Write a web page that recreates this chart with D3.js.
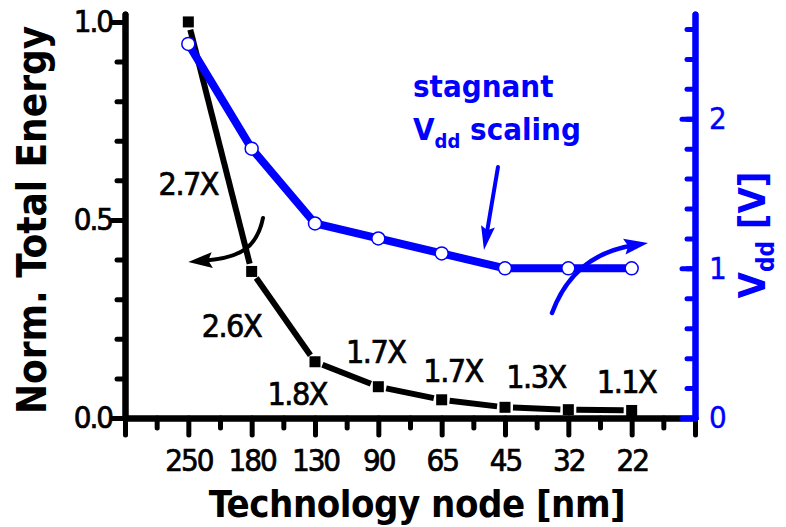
<!DOCTYPE html>
<html>
<head>
<meta charset="utf-8">
<script src="https://cdn.jsdelivr.net/npm/d3@7"></script>
<style>
  html, body { margin: 0; padding: 0; background: #fff; }
  svg { display: block; }
  .cond { font-family: 'DejaVu Sans Condensed', 'DejaVu Sans', sans-serif; font-stretch: condensed; }
</style>
</head>
<body>
<svg id="chart" width="786" height="527"></svg>
<script>
// Technology nodes (nm) and the two series plotted against them
const nodes = ["250", "180", "130", "90", "65", "45", "32", "22"];
const energy = [1.0, 0.37, 0.142, 0.079, 0.046, 0.027, 0.021, 0.019];
const vdd = [2.5, 1.8, 1.3, 1.2, 1.1, 1.0, 1.0, 1.0];
// energy reduction between consecutive nodes
const ratioLabels = ["2.7X", "2.6X", "1.8X", "1.7X", "1.7X", "1.3X", "1.1X"];
const energyTicks = [0, 0.5, 1.0];
const vddTicks = [0, 1, 2];

// where the ratio labels sit, in (node index, energy) units: centre x, baseline y
const ratioAnchors = [[0.0, 0.563], [0.68, 0.205], [1.72, 0.033], [2.96, 0.139],
                      [4.18, 0.091], [5.49, 0.076], [6.92, 0.063]];

const BLUE = "#0000ff";
const svg = d3.select("#chart");

const x = d3.scaleLinear().domain([-1, 8]).range([125, 695]);
const yE = d3.scaleLinear().domain([0, 1.02]).range([418, 14]);
const yV = d3.scaleLinear().domain([0, 2.7]).range([418, 14]);

function styleAxis(g, color) {
  g.select(".domain").attr("stroke", color).attr("stroke-width", 6)
    .attr("stroke-linecap", "round");
  g.selectAll(".tick line").attr("stroke", color).attr("stroke-width", 5)
    .attr("stroke-linecap", "round");
  g.selectAll("text").attr("class", "cond").attr("fill", color)
    .attr("stroke", color).attr("stroke-width", 0.7)
    .attr("font-size", 31).attr("letter-spacing", -2);
}

// ---- bottom axis (node index) ----
const xMinor = svg.append("g").attr("transform", `translate(0,${yE(0)})`)
  .call(d3.axisBottom(x).tickValues(d3.range(-0.5, 8, 1)).tickSize(10).tickSizeOuter(0).tickFormat(""));
styleAxis(xMinor, "#000");
const xMajor = svg.append("g").attr("transform", `translate(0,${yE(0)})`)
  .call(d3.axisBottom(x).tickValues(d3.range(-1, 9, 1)).tickSize(17).tickSizeOuter(0)
    .tickPadding(14).tickFormat(i => nodes[i] !== undefined ? nodes[i] : ""));
styleAxis(xMajor, "#000");

// ---- left axis (normalized energy) ----
const yMinor = svg.append("g").attr("transform", `translate(${x(-1)},0)`)
  .call(d3.axisLeft(yE).tickValues(d3.range(0, 10).map(d => d / 10)).tickSize(8).tickSizeOuter(0).tickFormat(""));
styleAxis(yMinor, "#000");
const yMajor = svg.append("g").attr("transform", `translate(${x(-1)},0)`)
  .call(d3.axisLeft(yE).tickValues(energyTicks).tickSize(13).tickSizeOuter(0)
    .tickPadding(0).tickFormat(d3.format(".1f")));
styleAxis(yMajor, "#000");

// ---- energy series: segments with a small gap at each marker ----
const gap = 8;
const ePts = energy.map((v, i) => [x(i), yE(v)]);
const segs = d3.pairs(ePts).map(([a, b]) => {
  const dx = b[0] - a[0], dy = b[1] - a[1], L = Math.hypot(dx, dy);
  const ux = dx / L, uy = dy / L;
  return [a[0] + ux * gap, a[1] + uy * gap, b[0] - ux * gap, b[1] - uy * gap];
});
svg.append("g").selectAll("line").data(segs).join("line")
  .attr("x1", d => d[0]).attr("y1", d => d[1]).attr("x2", d => d[2]).attr("y2", d => d[3])
  .attr("stroke", "#000").attr("stroke-width", 6).attr("stroke-linecap", "butt");
const sq = 11;
svg.append("g").selectAll("rect").data(energy).join("rect")
  .attr("x", (d, i) => x(i) - sq / 2).attr("y", d => yE(d) - sq / 2)
  .attr("width", sq).attr("height", sq).attr("fill", "#000");

// ---- Vdd series ----
svg.append("path").datum(vdd)
  .attr("d", d3.line().x((d, i) => x(i)).y(d => yV(d)))
  .attr("fill", "none").attr("stroke", BLUE).attr("stroke-width", 8)
  .attr("stroke-linejoin", "round");
svg.append("g").selectAll("circle").data(vdd).join("circle")
  .attr("cx", (d, i) => x(i)).attr("cy", d => yV(d)).attr("r", 6.5)
  .attr("fill", "#fff").attr("stroke", BLUE).attr("stroke-width", 1.5);

// ---- right axis (Vdd) ----
const vMinor = svg.append("g").attr("transform", `translate(${x(8)},0)`)
  .call(d3.axisRight(yV).tickValues(d3.range(0, 14).map(d => d / 5)).tickSize(-8).tickSizeOuter(0).tickFormat(""));
styleAxis(vMinor, BLUE);
const vMajor = svg.append("g").attr("transform", `translate(${x(8)},0)`)
  .call(d3.axisRight(yV).tickValues(vddTicks).tickSize(-13).tickSizeOuter(0)
    .tickPadding(14).tickFormat(d3.format("d")));
styleAxis(vMajor, BLUE);
vMajor.selectAll("text").attr("letter-spacing", 0).attr("stroke-width", 0.4);

// ---- ratio labels ----
svg.append("g").selectAll("text").data(ratioLabels).join("text")
  .attr("class", "cond")
  .attr("x", (d, i) => x(ratioAnchors[i][0]))
  .attr("y", (d, i) => yE(ratioAnchors[i][1]))
  .attr("text-anchor", "middle").attr("font-size", 32).attr("letter-spacing", -1.5)
  .attr("fill", "#000").attr("stroke", "#000").attr("stroke-width", 0.7).text(d => d);

// ---- arrows ----
function arrow(pts, color, width, headL, headW) {
  // pts: start, control1, control2, tip (cubic) or start, tip (straight), in pixels
  const tip = pts[pts.length - 1], prev = pts[pts.length - 2];
  const dx = tip[0] - prev[0], dy = tip[1] - prev[1], L = Math.hypot(dx, dy);
  const ux = dx / L, uy = dy / L;
  const base = [tip[0] - ux * headL, tip[1] - uy * headL];
  const end = [tip[0] - ux * headL * 0.6, tip[1] - uy * headL * 0.6];
  const p = d3.path();
  p.moveTo(pts[0][0], pts[0][1]);
  if (pts.length === 4) p.bezierCurveTo(pts[1][0], pts[1][1], pts[2][0], pts[2][1], end[0], end[1]);
  else p.lineTo(end[0], end[1]);
  svg.append("path").attr("d", p.toString()).attr("fill", "none")
    .attr("stroke", color).attr("stroke-width", width).attr("stroke-linecap", "round");
  svg.append("path")
    .attr("d", `M${tip[0]},${tip[1]}L${base[0] - uy * headW},${base[1] + ux * headW}` +
               `L${base[0] + ux * 4},${base[1] + uy * 4}L${base[0] + uy * headW},${base[1] - ux * headW}Z`)
    .attr("fill", color);
}
const pe = d => [x(d[0]), yE(d[1])];
const pv = d => [x(d[0]), yV(d[1])];
arrow([[1.179, 0.505], [1.084, 0.429], [0.816, 0.404], [0.0, 0.394]].map(pe), "#000", 4, 24, 8);
arrow([[5.742, 0.702], [5.947, 0.936], [6.342, 1.109], [7.258, 1.170]].map(pv), BLUE, 4.5, 24, 8);
arrow([[4.889, 1.677], [4.668, 1.123]].map(pv), BLUE, 4, 24, 7);

// ---- annotation ----
const note = svg.append("g").attr("class", "cond").attr("fill", BLUE)
  .attr("font-weight", "bold").attr("font-size", 31);
note.append("text").attr("x", x(3.547)).attr("y", yV(2.145)).text("stagnant");
const n2 = note.append("text").attr("x", x(3.547)).attr("y", yV(1.858));
n2.append("tspan").text("V");
n2.append("tspan").attr("font-size", 20).attr("dy", 8).text("dd");
n2.append("tspan").attr("dy", -8).text(" scaling");

// ---- axis titles ----
svg.append("text").attr("class", "cond").attr("font-weight", "bold").attr("font-size", 38)
  .attr("letter-spacing", -0.5)
  .attr("text-anchor", "middle").attr("x", (x(-1) + x(8)) / 2 + 7).attr("y", 517)
  .attr("fill", "#000").text("Technology node [nm]");
svg.append("text").attr("class", "cond").attr("font-weight", "bold").attr("font-size", 40)
  .attr("text-anchor", "middle").attr("transform", `translate(46,${(yE(0) + yE(1)) / 2}) rotate(-90)`)
  .attr("fill", "#000").text("Norm. Total Energy");
const rt = svg.append("text").attr("class", "cond").attr("font-weight", "bold").attr("font-size", 38)
  .attr("text-anchor", "middle").attr("fill", BLUE)
  .attr("transform", `translate(765,235) rotate(-90)`);
rt.append("tspan").text("V");
rt.append("tspan").attr("font-size", 24).attr("dy", 9).text("dd");
rt.append("tspan").attr("dy", -9).text(" [V]");
</script>
</body>
</html>
